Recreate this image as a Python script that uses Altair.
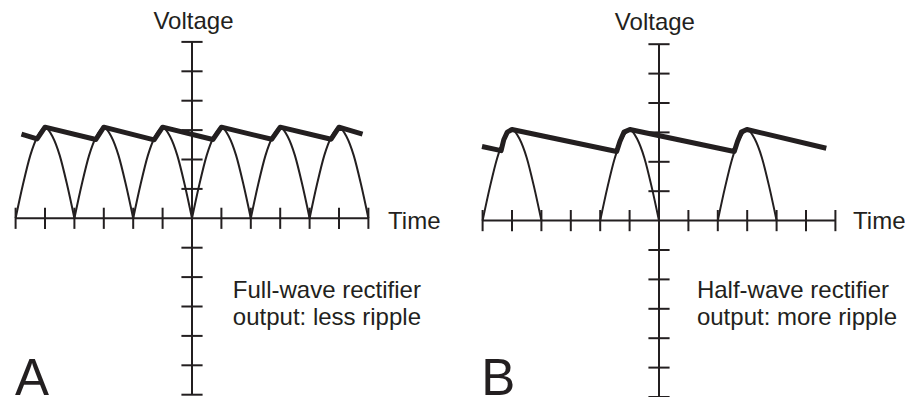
import altair as alt
import pandas as pd

# ---------------- data ----------------
AXIS_TICKS = [-6, -5, -4, -3, -2, -1, 0, 1, 2, 3, 4, 5, 6]
AMP = 3.1                                    # peak voltage (grid units)
arch_profile = [0.0, 0.37, 0.69, 0.90, 1.0, 0.90, 0.69, 0.37, 0.0]  # one rectified half-cycle
arch_step = 0.25                              # grid units between profile points

fullwave_starts = [-6, -4, -2, 0, 2, 4]       # every half-cycle kept
halfwave_starts = [-6, -2, 2]                 # every other half-cycle kept

# smoothed (capacitor) output, panel A
fw_env_x = [-5.80, -5.27, -5.0, -3.27, -3.0, -1.29, -1.0, 0.71, 1.0, 2.71, 3.0, 4.73, 5.0, 5.80]
fw_env_y = [2.86, 2.70, 3.10, 2.68, 3.10, 2.67, 3.10, 2.68, 3.10, 2.69, 3.10, 2.69, 3.10, 2.86]

# smoothed (capacitor) output, panel B
hw_env_x = [-6.02, -5.37, -5.28, -5.16, -5.0, -1.44, -1.33, -1.19, -0.99, 2.56, 2.67, 2.80, 2.99, 5.69]
hw_env_y = [2.52, 2.38, 2.75, 3.01, 3.10, 2.35, 2.69, 3.01, 3.10, 2.35, 2.69, 3.01, 3.10, 2.46]

axis_names = ["Voltage", "Time"]
fw_caption = ["Full-wave rectifier", "output: less ripple"]
hw_caption = ["Half-wave rectifier", "output: more ripple"]
panel_letters = ["A", "B"]

# ---------------- layout / style ----------------
W, H = 897, 389
UNIT = 29.4                     # pixels per grid unit
INK = "#231f20"
FONT = "Liberation Sans"
TICK_HALF = 0.36


def panel(origin_px, starts, env_x, env_y, caption, letter, volt_pos, time_pos, cap_pos, letter_pos):
    ox, oy = origin_px
    xs = alt.Scale(domain=[-ox / UNIT, (W - ox) / UNIT], nice=False, zero=False)
    ys = alt.Scale(domain=[-(H - oy) / UNIT, oy / UNIT], nice=False, zero=False)
    X = lambda f: alt.X(f, type="quantitative", scale=xs, axis=None)
    Y = lambda f: alt.Y(f, type="quantitative", scale=ys, axis=None)

    lo, hi = AXIS_TICKS[0], AXIS_TICKS[-1]
    segs = [dict(x=lo, x2=hi, y=0, y2=0), dict(x=0, x2=0, y=lo, y2=hi)]
    for t in AXIS_TICKS:
        segs.append(dict(x=t, x2=t, y=-TICK_HALF, y2=TICK_HALF))
        if t != 0:
            segs.append(dict(x=-TICK_HALF, x2=TICK_HALF, y=t, y2=t))
    seg_df = pd.DataFrame(segs)
    axes = alt.Chart(seg_df).mark_rule(color=INK, strokeWidth=2).encode(
        x=X("x"), x2="x2", y=Y("y"), y2="y2")

    rows = []
    for k, s in enumerate(starts):
        for i, p in enumerate(arch_profile):
            rows.append(dict(arc=k, i=i, x=s + i * arch_step, y=AMP * p))
    arcs = alt.Chart(pd.DataFrame(rows)).mark_line(
        color=INK, strokeWidth=2, interpolate="monotone").encode(
        x=X("x"), y=Y("y"), detail="arc:N", order="i:Q")

    env_df = pd.DataFrame({"x": env_x, "y": env_y, "i": range(len(env_x))})
    env = alt.Chart(env_df).mark_line(
        color=INK, strokeWidth=5, strokeJoin="round").encode(
        x=X("x"), y=Y("y"), order="i:Q")

    volt = alt.Chart(pd.DataFrame([dict(x=volt_pos[0], y=volt_pos[1], t=axis_names[0])])).mark_text(
        font=FONT, fontSize=24, color=INK, align="center", baseline="alphabetic").encode(
        x=X("x"), y=Y("y"), text="t:N")

    left_rows = [dict(x=time_pos[0], y=time_pos[1], t=axis_names[1]),
                 dict(x=cap_pos[0], y=cap_pos[1], t=caption[0]),
                 dict(x=cap_pos[0], y=cap_pos[2], t=caption[1])]
    left = alt.Chart(pd.DataFrame(left_rows)).mark_text(
        font=FONT, fontSize=24, color=INK, align="left", baseline="alphabetic").encode(
        x=X("x"), y=Y("y"), text="t:N")

    big = alt.Chart(pd.DataFrame([dict(x=letter_pos[0], y=letter_pos[1], t=letter)])).mark_text(
        font=FONT, fontSize=51, color=INK, align="left", baseline="alphabetic").encode(
        x=X("x"), y=Y("y"), text="t:N")

    return alt.layer(axes, arcs, env, volt, left, big)


panel_a = panel((184, 210.3), fullwave_starts, fw_env_x, fw_env_y, fw_caption, panel_letters[0],
                volt_pos=(0.05, 6.44), time_pos=(6.67, -0.36), cap_pos=(1.39, -2.72, -3.63),
                letter_pos=(-6.02, -6.0))
panel_b = panel((651, 212.6), halfwave_starts, hw_env_x, hw_env_y, hw_caption, panel_letters[1],
                volt_pos=(-0.14, 6.5), time_pos=(6.60, -0.29), cap_pos=(1.29, -2.64, -3.56),
                letter_pos=(-6.05, -5.93))

chart = alt.layer(panel_a, panel_b).resolve_scale(
    x="independent", y="independent"
).properties(
    width=W, height=H, padding=0, autosize=alt.AutoSizeParams(type="none"),
    background="white"
).configure_view(stroke=None)

chart.save("out.html", embed_options={"renderer": "svg", "actions": False})
